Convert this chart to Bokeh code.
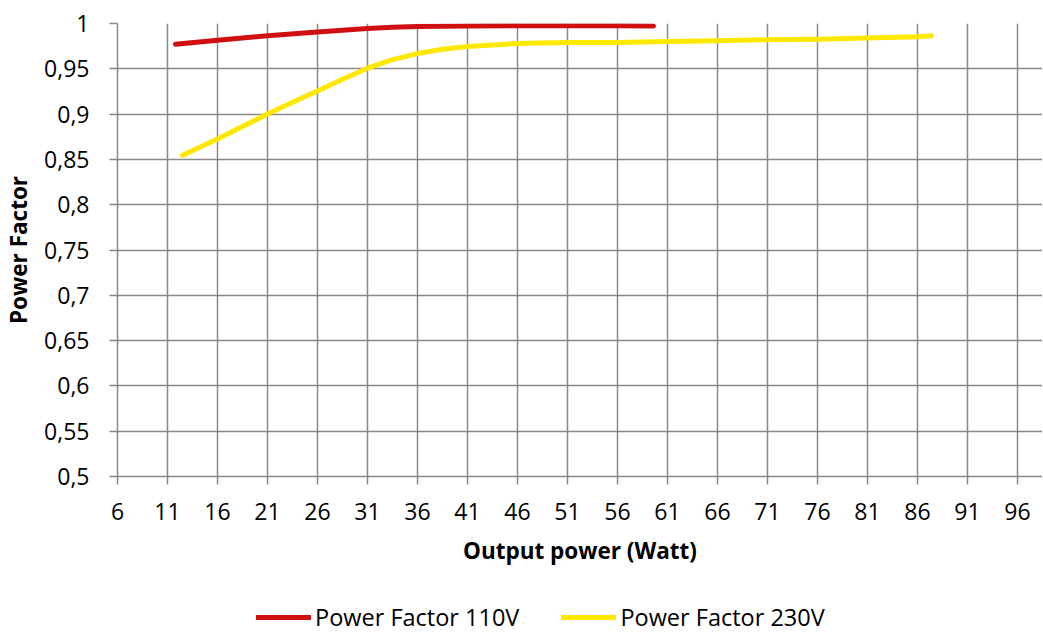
from bokeh.plotting import figure
from bokeh.models import Range1d, FixedTicker, Legend, LegendItem
from bokeh.layouts import column
from bokeh.embed import file_html
from bokeh.resources import INLINE

# ---- data ----
x_110 = [11.8, 16, 21, 26, 31, 33.5, 36, 41, 46, 51, 56, 59.6]
pf_110 = [0.977, 0.9816, 0.9864, 0.9907, 0.9945, 0.9959, 0.9967, 0.9973, 0.9975, 0.9975,
          0.9974, 0.9972]

x_230 = [12.5, 16, 18.5, 21, 23.5, 26, 28.5, 31, 33.5, 36, 38.5, 41, 46, 51, 56, 61,
         66, 71, 76, 81, 86, 87.4]
pf_230 = [0.8545, 0.8725, 0.8862, 0.900, 0.913, 0.9256, 0.9385, 0.9507, 0.9602, 0.9668,
          0.9716, 0.9746, 0.978, 0.979, 0.979, 0.980, 0.981, 0.982, 0.9827, 0.984,
          0.9853, 0.9864]

x_ticks = [6, 11, 16, 21, 26, 31, 36, 41, 46, 51, 56, 61, 66, 71, 76, 81, 86, 91, 96]
y_ticks = [0.5, 0.55, 0.6, 0.65, 0.7, 0.75, 0.8, 0.85, 0.9, 0.95, 1.0]
y_tick_labels = ["0,5", "0,55", "0,6", "0,65", "0,7", "0,75", "0,8", "0,85", "0,9", "0,95", "1"]

series_names = ["Power Factor 110V", "Power Factor 230V"]
series_colors = ["#d01010", "#ffe800"]
x_title = "Output power (Watt)"
y_title = "Power Factor"

FONT = "Open Sans"
GRID = "#888888"

p = figure(frame_width=925, frame_height=453,
           x_range=Range1d(6, 98.5), y_range=Range1d(0.5, 1.0),
           output_backend="svg", toolbar_location=None,
           min_border_left=116, min_border_right=0, min_border_top=23, min_border_bottom=115)
p.outline_line_color = None
p.background_fill_color = "white"
p.border_fill_color = "white"

# grids
p.xgrid.ticker = FixedTicker(ticks=x_ticks)
p.ygrid.ticker = FixedTicker(ticks=y_ticks)
for g in (p.xgrid, p.ygrid):
    g.grid_line_color = GRID
    g.grid_line_width = 1.5

# axes
p.xaxis.ticker = FixedTicker(ticks=x_ticks)
p.yaxis.ticker = FixedTicker(ticks=y_ticks)
p.yaxis.major_label_overrides = {t: l for t, l in zip(y_ticks, y_tick_labels)}
for ax in (p.xaxis[0], p.yaxis[0]):
    ax.axis_line_color = GRID
    ax.axis_line_width = 1.5
    ax.major_tick_line_color = GRID
    ax.major_tick_line_width = 1.5
    ax.major_tick_in = 0
    ax.major_tick_out = 8
    ax.minor_tick_line_color = None
    ax.major_label_text_font = FONT
    ax.major_label_text_font_size = "23px"
    ax.major_label_text_color = "black"
    ax.axis_label_text_font = FONT
    ax.axis_label_text_font_size = "22.5px"
    ax.axis_label_text_font_style = "bold"
    ax.axis_label_text_color = "black"
p.xaxis.axis_label = x_title
p.yaxis.axis_label = y_title
p.xaxis.major_label_standoff = 18
p.yaxis.major_label_standoff = 20
p.xaxis.axis_label_standoff = 12
p.yaxis.axis_label_standoff = 7

p.line(x_110, pf_110, line_color=series_colors[0], line_width=5, line_cap="round", line_join="round")
p.line(x_230, pf_230, line_color=series_colors[1], line_width=5, line_cap="round", line_join="round")

# ---- legend strip below the chart (key renderers are hidden, only their legend glyph shows) ----
lg = figure(width=1041, height=42, x_range=Range1d(6, 98.5), y_range=Range1d(0.5, 1.0),
            x_axis_type=None, y_axis_type=None, output_backend="svg", toolbar_location=None,
            min_border=0)
lg.outline_line_color = None
lg.xgrid.visible = False
lg.ygrid.visible = False
k110 = lg.line(x_110, pf_110, line_color=series_colors[0], line_width=5, line_cap="round",
               visible=False)
k230 = lg.line(x_230, pf_230, line_color=series_colors[1], line_width=5, line_cap="round",
               visible=False)
legend = Legend(items=[LegendItem(label=series_names[0], renderers=[k110]),
                       LegendItem(label=series_names[1], renderers=[k230])],
                orientation="horizontal", location=(139, 0))
legend.label_text_font = FONT
legend.label_text_font_size = "23.5px"
legend.label_text_color = "black"
legend.glyph_width = 55
legend.glyph_height = 20
legend.label_height = 20
legend.label_standoff = 4
legend.spacing = 42
legend.padding = 0
legend.margin = 0
legend.border_line_color = None
legend.background_fill_alpha = 0
legend.inactive_fill_alpha = 0
lg.add_layout(legend, "center")

layout = column(p, lg, spacing=0)
open("out.html", "w").write(file_html(layout, INLINE))
